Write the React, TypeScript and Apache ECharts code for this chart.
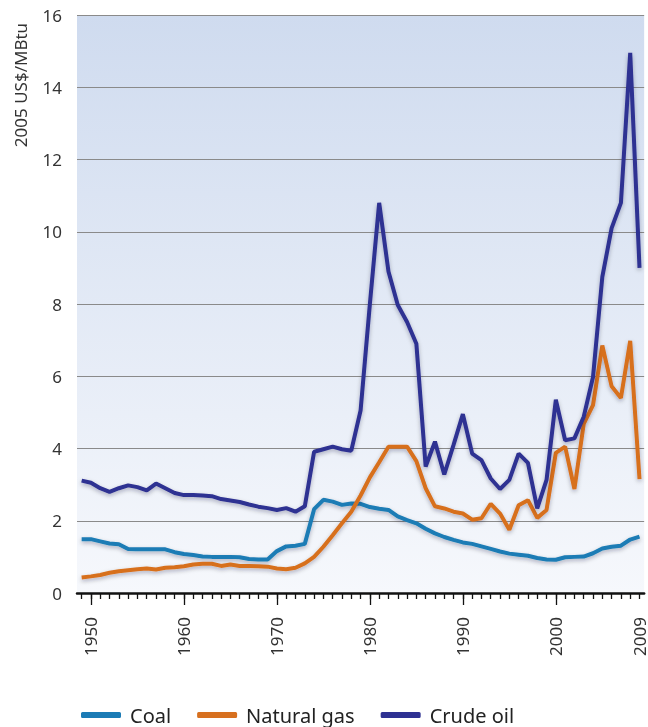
import React, { useEffect, useRef } from "react";
import * as echarts from "echarts";

const years: string[] = [];
for (let y = 1949; y <= 2009; y++) years.push(String(y));

const coal = [
  1.49, 1.49, 1.43, 1.37, 1.35, 1.22, 1.21, 1.21, 1.21, 1.21,
  1.13, 1.08, 1.05, 1.01, 1.0, 1.0, 1.0, 0.99, 0.94, 0.93,
  0.93, 1.16, 1.29, 1.31, 1.36, 2.32, 2.58, 2.53, 2.44, 2.48,
  2.47, 2.38, 2.33, 2.3, 2.12, 2.02, 1.93, 1.78, 1.65, 1.55,
  1.47, 1.4, 1.36, 1.29, 1.22, 1.15, 1.09, 1.06, 1.03, 0.97,
  0.93, 0.92, 0.99, 1.0, 1.01, 1.1, 1.23, 1.28, 1.31, 1.48,
  1.56,
];

const naturalGas = [
  0.43, 0.46, 0.5, 0.56, 0.6, 0.63, 0.66, 0.68, 0.65, 0.7,
  0.71, 0.74, 0.79, 0.81, 0.81, 0.75, 0.79, 0.75, 0.75, 0.74,
  0.73, 0.68, 0.66, 0.7, 0.82, 1.0, 1.28, 1.6, 1.93, 2.25,
  2.7, 3.2, 3.62, 4.05, 4.05, 4.05, 3.65, 2.9, 2.4, 2.34,
  2.25, 2.2, 2.03, 2.07, 2.47, 2.2, 1.75, 2.43, 2.57, 2.08,
  2.3, 3.88, 4.05, 2.88, 4.68, 5.2, 6.85, 5.72, 5.4, 6.98,
  3.15,
];

const crudeOil = [
  3.11, 3.05, 2.9, 2.8, 2.9, 2.98, 2.93, 2.84, 3.03, 2.9,
  2.77, 2.71, 2.71, 2.7, 2.68, 2.6, 2.56, 2.52, 2.45, 2.39,
  2.35, 2.3, 2.35, 2.25, 2.4, 3.91, 3.98, 4.05, 3.98, 3.94,
  5.05, 8.0, 10.8, 8.9, 7.97, 7.5, 6.9, 3.5, 4.19, 3.28,
  4.1, 4.95, 3.86, 3.68, 3.17, 2.88, 3.13, 3.86, 3.6, 2.34,
  3.13, 5.35, 4.23, 4.28, 4.88, 5.98, 8.75, 10.1, 10.8, 14.95,
  9.0,
];

const labelYears = ["1950", "1960", "1970", "1980", "1990", "2000", "2009"];
const majorTickYears = ["1950", "1960", "1970", "1980", "1990", "2000"];

const FONT = "'Noto Sans', 'Open Sans', sans-serif";

export default function App() {
  const ref = useRef<HTMLDivElement>(null);

  useEffect(() => {
    if (!ref.current) return;
    const chart = echarts.init(ref.current, undefined, { renderer: "svg" });
    const mkSeries = (name: string, data: number[], color: string, z: number) => ({
      name,
      type: "line",
      data,
      symbol: "none",
      z,
      itemStyle: { color },
      lineStyle: {
        width: 4,
        color,
        shadowColor: "rgba(0,0,40,0.3)",
        shadowBlur: 4,
        shadowOffsetY: 2,
      },
    });
    chart.setOption({
      animation: false,
      textStyle: { fontFamily: FONT },
      grid: {
        left: 77,
        right: 3,
        top: 15,
        bottom: 134,
        show: true,
        borderWidth: 0,
        backgroundColor: {
          type: "linear",
          x: 0,
          y: 0,
          x2: 0,
          y2: 1,
          colorStops: [
            { offset: 0, color: "#cfdbef" },
            { offset: 1, color: "#f6f8fc" },
          ],
        },
      },
      legend: {
        top: 700,
        left: 76,
        icon: "roundRect",
        itemWidth: 40,
        itemHeight: 6,
        itemGap: 26,
        textStyle: { fontSize: 20, color: "#222", fontFamily: FONT, padding: [0, 0, 0, 4] },
        data: ["Coal", "Natural gas", "Crude oil"],
      },
      xAxis: [
        {
          type: "category",
          data: years,
          boundaryGap: true,
          position: "bottom",
          axisLine: { show: true, lineStyle: { color: "#111", width: 2.5 } },
          axisTick: {
            show: true,
            interval: 0,
            alignWithLabel: true,
            length: 6,
            lineStyle: { color: "#111", width: 1.3 },
          },
          axisLabel: {
            interval: (_i: number, v: string) => labelYears.includes(v),
            rotate: 90,
            margin: 24,
            fontSize: 17,
            color: "#333",
            fontFamily: FONT,
          },
          splitLine: { show: false },
        },
        {
          type: "category",
          data: years,
          boundaryGap: true,
          position: "bottom",
          axisLine: { show: false },
          axisTick: {
            show: true,
            interval: (_i: number, v: string) => majorTickYears.includes(v),
            alignWithLabel: true,
            length: 12,
            lineStyle: { color: "#111", width: 1.3 },
          },
          axisLabel: { show: false },
          splitLine: { show: false },
        },
      ],
      yAxis: {
        type: "value",
        min: 0,
        max: 16,
        interval: 2,
        axisLine: { show: false },
        axisTick: { show: false },
        axisLabel: { fontSize: 17, color: "#333", margin: 15, fontFamily: FONT },
        splitLine: { show: true, lineStyle: { color: "#8a8a8a", width: 1 } },
      },
      graphic: [
        {
          type: "text",
          x: 20,
          y: 85,
          rotation: Math.PI / 2,
          style: {
            text: "2005 US$/MBtu",
            fontSize: 17,
            fontFamily: FONT,
            fill: "#333",
            textAlign: "center",
            textVerticalAlign: "middle",
          },
        },
      ],
      series: [
        mkSeries("Coal", coal, "#1b7bb5", 3),
        mkSeries("Natural gas", naturalGas, "#d7701f", 4),
        mkSeries("Crude oil", crudeOil, "#2e3192", 5),
      ],
    });
    return () => chart.dispose();
  }, []);

  return (
    <div
      ref={ref}
      style={{ position: "fixed", left: 0, top: 0, width: 648, height: 727 }}
    />
  );
}
